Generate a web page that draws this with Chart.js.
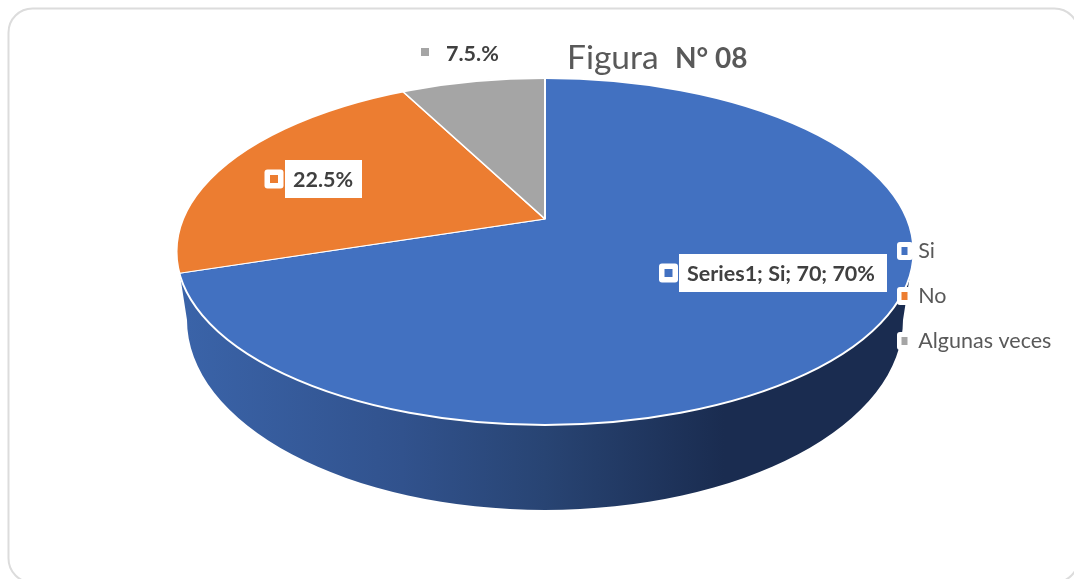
<!DOCTYPE html>
<html>
<head>
<meta charset="utf-8">
<style>html,body{margin:0;padding:0;background:#fff}canvas{display:block}</style>
<script src="https://cdn.jsdelivr.net/npm/chart.js@4/dist/chart.umd.min.js"></script>
</head>
<body>
<canvas id="c" width="1074" height="579"></canvas>
<script>
const categories = ['Si', 'No', 'Algunas veces'];
const seriesValues = [70, 22.5, 7.5];
const sliceColors = ['#4271C1', '#EC7D31', '#A5A5A5'];
const sliceLabels = ['Series1; Si; 70; 70%', '22.5%', '7.5.%'];
const titleLight = 'Figura';
const titleBold = 'N\u00B0 08';
const FONT = 'Lato, "Open Sans", sans-serif';
const TILT = 0.457;                       // vertical squash of the pie
const APEX = {x: 545, y: 219};
const TOP = {x: 545, y: 251.5, rx: 368.5, ry: 173.5};
const BASE = {x: 545, y: 320, rx: 358, ry: 190};

function frame(ctx, x, y, w, h, r) {
  ctx.fillStyle = '#fff';
  ctx.beginPath();
  ctx.roundRect(x, y, w, h, r);
  ctx.fill();
}
function marker(ctx, x, y, w, color, framed) {
  if (framed) frame(ctx, x - 5.5, y - 5.5, w + 11, w + 11, 3);
  ctx.fillStyle = color;
  ctx.fillRect(x, y, w, w);
}

const piePlugin = {
  id: 'pie3d',
  beforeLayout(chart) {
    const lg = chart.legend;
    if (lg) lg._layers = () => [{z: 5, draw: a => lg.draw(a)}];
  },
  afterLayout(chart) {
    const lg = chart.legend;
    const pad = lg.options.labels.padding;
    lg.left = 901.5 - pad;
    lg.right = 1074;
    lg.top = 251 - pad - 10.75;
    lg.bottom = 400;
  },
  beforeDraw(chart) {
    const ctx = chart.ctx;
    ctx.save();
    ctx.strokeStyle = '#dcdcdc';
    ctx.lineWidth = 2;
    ctx.beginPath();
    ctx.roundRect(8.5, 8.5, 1070, 574, 24);
    ctx.stroke();
    ctx.restore();
  },
  beforeDatasetsDraw(chart) {
    const ctx = chart.ctx;
    // wall of the pie
    const g = ctx.createLinearGradient(187, 0, 903, 0);
    g.addColorStop(0, '#3A63A8');
    g.addColorStop(0.3, '#31528D');
    g.addColorStop(0.5, '#284473');
    g.addColorStop(0.75, '#1A2C50');
    g.addColorStop(1, '#1A2C50');
    ctx.fillStyle = g;
    ctx.beginPath();
    ctx.moveTo(178, 262);
    ctx.lineTo(BASE.x - BASE.rx, BASE.y);
    ctx.ellipse(BASE.x, BASE.y, BASE.rx, BASE.ry, 0, Math.PI, 0, true);
    ctx.lineTo(912, 262);
    ctx.closePath();
    ctx.fill();
    // top face: library arcs, squashed and trimmed to the ellipse
    ctx.save();
    ctx.beginPath();
    ctx.ellipse(TOP.x, TOP.y, TOP.rx, TOP.ry, 0, 0, Math.PI * 2);
    ctx.clip();
    ctx.translate(APEX.x, APEX.y);
    ctx.scale(1, TILT);
    ctx.translate(-APEX.x, -APEX.y);
  },
  afterDatasetsDraw(chart) {
    const ctx = chart.ctx;
    ctx.restore();
    ctx.strokeStyle = '#fff';
    ctx.lineWidth = 2;
    ctx.beginPath();
    ctx.ellipse(TOP.x, TOP.y, TOP.rx, TOP.ry, 0, 0, Math.PI * 2);
    ctx.stroke();

    // legend marker frames (legend itself is drawn afterwards)
    [251, 296, 341].forEach(cy => frame(ctx, 897, cy - 9, 16, 18, 3));

    // data labels
    ctx.textBaseline = 'alphabetic';
    ctx.textAlign = 'left';
    ctx.font = 'bold 21.5px ' + FONT;
    frame(ctx, 679, 254, 208, 38, 0);
    marker(ctx, 664.5, 269, 8, sliceColors[0], true);
    ctx.fillStyle = '#404040';
    ctx.fillText(sliceLabels[0], 687, 281);

    frame(ctx, 285, 160, 77, 38, 0);
    marker(ctx, 270, 175, 8, sliceColors[1], true);
    ctx.fillStyle = '#404040';
    ctx.fillText(sliceLabels[1], 293, 187);

    marker(ctx, 421, 48, 8, sliceColors[2], false);
    ctx.fillStyle = '#404040';
    ctx.fillText(sliceLabels[2], 446, 61);

    // title
    ctx.fillStyle = '#595959';
    ctx.font = '33.5px ' + FONT;
    ctx.fillText(titleLight, 567, 69);
    ctx.font = 'bold 28px ' + FONT;
    ctx.fillText(titleBold, 675, 68);
  }
};

new Chart(document.getElementById('c'), {
  type: 'pie',
  data: {
    labels: categories,
    datasets: [{
      label: 'Series1',
      data: seriesValues,
      backgroundColor: sliceColors,
      borderColor: '#fff',
      borderWidth: 2,
      radius: 480,
      clip: false
    }]
  },
  options: {
    responsive: false,
    animation: false,
    devicePixelRatio: 1,
    layout: {padding: {left: 16, right: 0, top: 0, bottom: 141}},
    plugins: {
      tooltip: {enabled: false},
      title: {display: false},
      legend: {
        display: true,
        position: 'chartArea',
        align: 'start',
        labels: {
          boxWidth: 6,
          boxHeight: 8,
          padding: 23.5,
          color: '#595959',
          font: {family: FONT, size: 21.5},
          generateLabels(chart) {
            return categories.map((t, i) => ({
              text: t, fillStyle: sliceColors[i], strokeStyle: sliceColors[i],
              lineWidth: 0, hidden: false, index: i, fontColor: '#595959'
            }));
          }
        }
      }
    }
  },
  plugins: [piePlugin]
});
</script>
</body>
</html>
